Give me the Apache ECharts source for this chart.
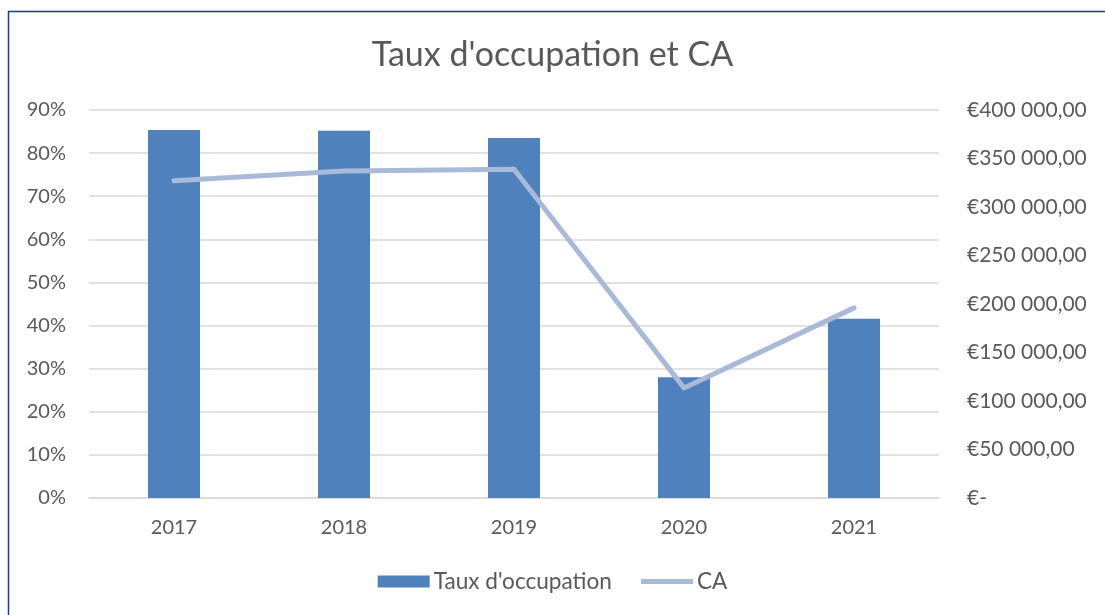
<!DOCTYPE html>
<html>
<head>
<meta charset="utf-8">
<script src="https://cdn.jsdelivr.net/npm/echarts@6/dist/echarts.min.js"></script>
<style>
  html, body { margin: 0; padding: 0; background: #fff; }
  #chart { width: 1105px; height: 615px; }
</style>
</head>
<body>
<div id="chart"></div>
<script>
'use strict';

// données
var years = ['2017', '2018', '2019', '2020', '2021'];
var taux_occupation = [85.35, 85.2, 83.5, 28.0, 41.6];
var chiffre_affaires = [327000, 337000, 339000, 113500, 196000];

var FONT = 'Lato';
var TEXT_COLOR = '#595959';

function format_euro(v) {
    if (v === 0) return '€-';
    // 400000 -> €400 000,00
    var s = String(Math.round(v));
    s = s.replace(/\B(?=(\d{3})+(?!\d))/g, ' ');
    return '€' + s + ',00';
}

var chart = echarts.init(document.getElementById('chart'));

var option = {
    animation: false,
    backgroundColor: '#fff',
    textStyle: { fontFamily: FONT },
    title: {
        text: "Taux d'occupation et CA",
        left: 'center',
        top: 33,
        textStyle: {
            fontFamily: FONT,
            fontSize: 34,
            fontWeight: 'normal',
            color: TEXT_COLOR
        }
    },
    graphic: [{
        // cadre du graphique (coupé à droite et en bas)
        type: 'rect',
        shape: { x: 8.5, y: 11.5, width: 1200, height: 700 },
        style: { fill: 'none', stroke: '#1F3B7F', lineWidth: 1.5 },
        silent: true
    }],
    legend: {
        bottom: 17,
        left: 'center',
        itemGap: 29,
        itemWidth: 52,
        itemHeight: 12,
        textStyle: { fontFamily: FONT, fontSize: 22.6, color: TEXT_COLOR, padding: [0, 0, 0, -1] },
        data: [
            { name: "Taux d'occupation", icon: 'rect' },
            { name: 'CA', icon: 'path://M0,0 L52,0 L52,5 L0,5 Z' }
        ]
    },
    grid: {
        left: 89,
        right: 166,
        top: 110,
        bottom: 117
    },
    xAxis: {
        type: 'category',
        data: years,
        axisLine: { show: true, lineStyle: { color: '#D9D9D9', width: 1.5 } },
        axisTick: { show: false },
        axisLabel: {
            fontFamily: FONT,
            fontSize: 20,
            color: TEXT_COLOR,
            margin: 20
        }
    },
    yAxis: [
        {
            type: 'value',
            min: 0,
            max: 90,
            interval: 10,
            axisLine: { show: false },
            axisTick: { show: false },
            splitLine: { lineStyle: { color: '#D9D9D9', width: 1.5 } },
            axisLabel: {
                fontFamily: FONT,
                fontSize: 20,
                color: TEXT_COLOR,
                margin: 23,
                formatter: '{value}%'
            }
        },
        {
            type: 'value',
            min: 0,
            max: 400000,
            interval: 50000,
            position: 'right',
            axisLine: { show: false },
            axisTick: { show: false },
            splitLine: { show: false },
            axisLabel: {
                fontFamily: FONT,
                fontSize: 21,
                color: TEXT_COLOR,
                margin: 28,
                formatter: format_euro
            }
        }
    ],
    series: [
        {
            name: "Taux d'occupation",
            type: 'bar',
            yAxisIndex: 0,
            barWidth: 52,
            itemStyle: { color: '#4F81BD' },
            data: taux_occupation
        },
        {
            name: 'CA',
            type: 'line',
            yAxisIndex: 1,
            symbol: 'none',
            lineStyle: { color: '#A9B9D8', width: 5, cap: 'round', join: 'round' },
            itemStyle: { color: '#A9B9D8' },
            data: chiffre_affaires
        }
    ]
};

chart.setOption(option);
</script>
</body>
</html>
